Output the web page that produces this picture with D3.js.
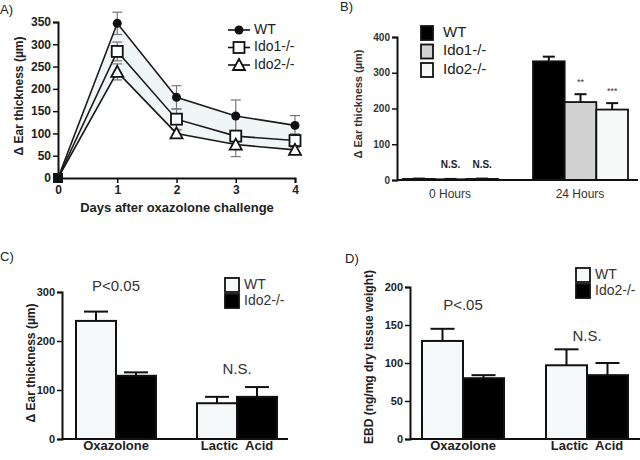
<!DOCTYPE html>
<html><head><meta charset="utf-8">
<script src="https://cdn.jsdelivr.net/npm/d3@7"></script>
<style>body{margin:0;background:#fff}svg{display:block}text{font-family:"Liberation Sans",Arial,sans-serif;white-space:pre}</style>
</head><body><svg id="c" width="640" height="460"></svg>
<script>
// ---------- DATA ----------
const daysA = [0, 1, 2, 3, 4];
const seriesA = ["WT", "Ido1-/-", "Ido2-/-"];
const wtA = [0, 347, 181, 139, 118];
const wtAErr = [0, 25, 26, 36, 22];
const ido1A = [0, 284, 132, 94, 84];
const ido1AErr = [0, 21, 23, 10, 15];
const ido2A = [0, 238, 100, 75, 63];
const ido2AErr = [0, 18, 8, 27, 10];
const ticksA = [0, 50, 100, 150, 200, 250, 300, 350];

const groupsB = ["0 Hours", "24 Hours"];
const seriesB = ["WT", "Ido1-/-", "Ido2-/-"];
const wtB = [3, 332];
const wtBErr = [1, 13];
const ido1B = [2, 218];
const ido1BErr = [1, 22];
const ido2B = [3, 197];
const ido2BErr = [1, 18];
const sigB = [["", "N.S.", "N.S."], ["", "**", "***"]];
const ticksB = [0, 100, 200, 300, 400];

const groupsCD = ["Oxazolone", "Lactic  Acid"];
const seriesCD = ["WT", "Ido2-/-"];
const wtC = [241, 73];
const wtCErr = [19, 13];
const ido2C = [129, 86];
const ido2CErr = [7, 20];
const sigC = ["P<0.05", "N.S."];
const ticksC = [0, 100, 200, 300];

const wtD = [129, 97];
const wtDErr = [16, 21];
const ido2D = [80, 84];
const ido2DErr = [4, 16];
const sigD = ["P<.05", "N.S."];
const ticksD = [0, 50, 100, 150, 200];

// ---------- HELPERS ----------
const svg = d3.select("#c");
const FONT = '"Liberation Sans",Arial,sans-serif';

function yAxis(g, y, ticks, fs, col) {
  const ax = g.append("g").attr("transform", `translate(${y.x0},0)`)
    .call(d3.axisLeft(y).tickValues(ticks).tickSize(5).tickPadding(2).tickFormat(d3.format("d")));
  ax.select(".domain").attr("stroke", "#111").attr("stroke-width", 2);
  ax.selectAll(".tick line").attr("stroke", "#111").attr("stroke-width", 1.5);
  ax.selectAll(".tick text").attr("font-size", fs).attr("font-weight", "bold").attr("fill", col).attr("font-family", FONT);
  return ax;
}
function label(g, txt, x, y, fs, opts = {}) {
  const t = g.append("text").attr("x", x).attr("y", y).text(txt)
    .attr("font-size", fs).attr("fill", opts.fill || "#222")
    .attr("font-weight", opts.bold ? "bold" : "normal")
    .attr("text-anchor", opts.anchor || "middle")
    .attr("dominant-baseline", "middle")
    .attr("xml:space", "preserve");
  if (opts.rot) t.attr("transform", `rotate(-90,${x},${y})`);
  return t;
}

// ---------- PANEL A ----------
{
  const g = svg.append("g");
  const x = d3.scaleLinear().domain([0, 4]).range([58, 295]);
  const y = d3.scaleLinear().domain([0, 350]).range([178, 22]);
  y.x0 = 58;
  const area = d3.area().x((d, i) => x(daysA[i])).y0((d, i) => y(ido2A[i])).y1(d => y(d));
  g.append("path").datum(wtA).attr("d", area).attr("fill", "#f0f5f5");
  const xa = g.append("g").attr("transform", `translate(0,178)`)
    .call(d3.axisBottom(x).tickValues(daysA).tickSize(5).tickPadding(2).tickFormat(d3.format("d")));
  xa.select(".domain").attr("stroke", "#111").attr("stroke-width", 2);
  xa.selectAll(".tick line").attr("stroke", "#111").attr("stroke-width", 1.5);
  xa.selectAll(".tick text").attr("font-size", 12).attr("font-weight", "bold").attr("fill", "#222").attr("font-family", FONT);
  yAxis(g, y, ticksA, 12, "#222");
  const all = [[wtA, wtAErr], [ido1A, ido1AErr], [ido2A, ido2AErr]];
  const line = d3.line().x((d, i) => x(daysA[i])).y(d => y(d));
  all.forEach(([v, e]) => {
    v.forEach((d, i) => {
      if (!e[i]) return;
      const cx = x(daysA[i]);
      g.append("line").attr("x1", cx).attr("x2", cx).attr("y1", y(d - e[i])).attr("y2", y(d + e[i])).attr("stroke", "#777").attr("stroke-width", 1.2);
      [d - e[i], d + e[i]].forEach(yy => g.append("line").attr("x1", cx - 5).attr("x2", cx + 5).attr("y1", y(yy)).attr("y2", y(yy)).attr("stroke", "#777").attr("stroke-width", 1.2));
    });
    g.append("path").datum(v).attr("d", line).attr("fill", "none").attr("stroke", "#1a1a1a").attr("stroke-width", 1.6);
  });
  function marker(sel, k, cx, cy) {
    if (k === 0) sel.append("circle").attr("cx", cx).attr("cy", cy).attr("r", 4.5).attr("fill", "#111");
    else if (k === 1) sel.append("rect").attr("x", cx - 5.5).attr("y", cy - 5.5).attr("width", 11).attr("height", 11).attr("fill", "#fff").attr("stroke", "#111").attr("stroke-width", 1.8);
    else sel.append("path").attr("d", `M${cx},${cy - 6}L${cx + 6},${cy + 5}L${cx - 6},${cy + 5}Z`).attr("fill", "#fff").attr("stroke", "#111").attr("stroke-width", 1.8);
  }
  all.forEach(([v], k) => v.forEach((d, i) => { if (i > 0) marker(g, k, x(daysA[i]), y(d)); }));
  g.append("rect").attr("x", x(0) - 5).attr("y", y(0) - 5).attr("width", 10).attr("height", 10).attr("fill", "#111");
  seriesA.forEach((s, k) => {
    const ly = 30 + k * 17.5;
    g.append("line").attr("x1", 228).attr("x2", 250).attr("y1", ly).attr("y2", ly).attr("stroke", "#111").attr("stroke-width", 1.6);
    marker(g, k, 239, ly);
    label(g, s, 254, ly, 14, { anchor: "start" });
  });
  label(g, "Δ Ear thickness (µm)", 20, 96, 12, { bold: true, rot: true });
  label(g, "Days after oxazolone challenge", 177, 209, 13, { bold: true });
  label(g, "A)", 0, 11, 13, { anchor: "start" });
}

// ---------- PANEL B ----------
{
  const g = svg.append("g");
  const y = d3.scaleLinear().domain([0, 400]).range([180, 37]);
  y.x0 = 397;
  const gx = d3.scalePoint().domain(groupsB).range([450, 580]);
  const sx = d3.scaleBand().domain(seriesB).range([-47, 48]);
  const vals = [wtB, ido1B, ido2B], errs = [wtBErr, ido1BErr, ido2BErr];
  const fills = ["#000", "#d2d2d2", "#f7f9f9"];
  groupsB.forEach((gr, gi) => {
    seriesB.forEach((s, si) => {
      const x0 = gx(gr) + sx(s), w = sx.bandwidth(), v = vals[si][gi], e = errs[si][gi];
      const cx = x0 + w / 2;
      g.append("line").attr("x1", cx).attr("x2", cx).attr("y1", y(v)).attr("y2", y(v + e)).attr("stroke", "#111").attr("stroke-width", 2);
      g.append("line").attr("x1", cx - 6).attr("x2", cx + 6).attr("y1", y(v + e)).attr("y2", y(v + e)).attr("stroke", "#111").attr("stroke-width", 2);
      g.append("rect").attr("x", x0).attr("y", y(v)).attr("width", w).attr("height", y(0) - y(v)).attr("fill", fills[si]).attr("stroke", "#111").attr("stroke-width", 1.8);
      const sg = sigB[gi][si];
      if (sg) {
        if (sg === "N.S.") label(g, sg, cx, 165, 10, { bold: true });
        else label(g, sg, cx, y(v + e) - 12, 9, { fill: "#333" });
      }
    });
  });
  g.append("line").attr("x1", 397).attr("x2", 638).attr("y1", 180).attr("y2", 180).attr("stroke", "#111").attr("stroke-width", 2);
  yAxis(g, y, ticksB, 10, "#333");
  groupsB.forEach(gr => label(g, gr, gx(gr), 195, 12, { fill: "#333" }));
  seriesB.forEach((s, k) => {
    const ly = 33 + k * 18.5;
    g.append("rect").attr("x", 421).attr("y", ly - 7).attr("width", 12).attr("height", 14).attr("fill", fills[k]).attr("stroke", "#111").attr("stroke-width", 1.8);
    label(g, s, 443, ly, 15, { anchor: "start" });
  });
  label(g, "Δ Ear thickness (µm)", 359, 104, 11, { bold: true, rot: true, fill: "#333" });
  label(g, "B)", 340, 8, 13, { anchor: "start" });
}

// ---------- PANELS C & D ----------
function panelCD(opts) {
  const g = svg.append("g");
  const y = d3.scaleLinear().domain(opts.dom).range([439, opts.top]);
  y.x0 = opts.ax;
  const gx = d3.scalePoint().domain(groupsCD).range(opts.centers);
  const sx = d3.scaleBand().domain(seriesCD).range([-opts.bw, opts.bw]);
  const vals = [opts.wt, opts.ido2], errs = [opts.wtE, opts.ido2E];
  const fills = ["#f6f9f9", "#000"];
  groupsCD.forEach((gr, gi) => {
    seriesCD.forEach((s, si) => {
      const x0 = gx(gr) + sx(s), w = sx.bandwidth(), v = vals[si][gi], e = errs[si][gi];
      const cx = x0 + w / 2;
      g.append("line").attr("x1", cx).attr("x2", cx).attr("y1", y(v)).attr("y2", y(v + e)).attr("stroke", "#111").attr("stroke-width", 2);
      g.append("line").attr("x1", cx - 12).attr("x2", cx + 12).attr("y1", y(v + e)).attr("y2", y(v + e)).attr("stroke", "#111").attr("stroke-width", 2);
      g.append("rect").attr("x", x0).attr("y", y(v)).attr("width", w).attr("height", y(0) - y(v)).attr("fill", fills[si]).attr("stroke", "#111").attr("stroke-width", 2);
    });
    label(g, opts.sig[gi], gx(gr), opts.sigY[gi], 15, { fill: "#333" });
    label(g, gr, gx(gr), 447, 13, { bold: true });
  });
  g.append("line").attr("x1", opts.ax).attr("x2", opts.axEnd).attr("y1", 439).attr("y2", 439).attr("stroke", "#111").attr("stroke-width", 2);
  yAxis(g, y, opts.ticks, 11, "#222");
  seriesCD.forEach((s, k) => {
    const ly = opts.legY + k * 16;
    g.append("rect").attr("x", opts.legX).attr("y", ly - 7).attr("width", 14).attr("height", 14).attr("fill", fills[k]).attr("stroke", "#111").attr("stroke-width", 1.8);
    label(g, s, opts.legX + 19, ly, 14, { anchor: "start", fill: "#333" });
  });
  label(g, opts.ylab, opts.ylabX, opts.ylabY, 12, { bold: true, rot: true });
  label(g, opts.tag, opts.tagX, opts.tagY, 13, { anchor: "start" });
}
panelCD({ dom: [0, 300], top: 292, ax: 62, axEnd: 288, centers: [116, 237], bw: 40,
  wt: wtC, wtE: wtCErr, ido2: ido2C, ido2E: ido2CErr, sig: sigC, sigY: [287, 370], ticks: ticksC,
  legX: 225, legY: 285, ylab: "Δ Ear thickness (µm)", ylabX: 32, ylabY: 363, tag: "C)", tagX: 0, tagY: 258 });
panelCD({ dom: [0, 200], top: 287, ax: 410, axEnd: 640, centers: [463, 587], bw: 41,
  wt: wtD, wtE: wtDErr, ido2: ido2D, ido2E: ido2DErr, sig: sigD, sigY: [306, 337], ticks: ticksD,
  legX: 576, legY: 275, ylab: "EBD (ng/mg dry tissue weight)", ylabX: 370, ylabY: 357, tag: "D)", tagX: 345, tagY: 260 });
</script></body></html>
